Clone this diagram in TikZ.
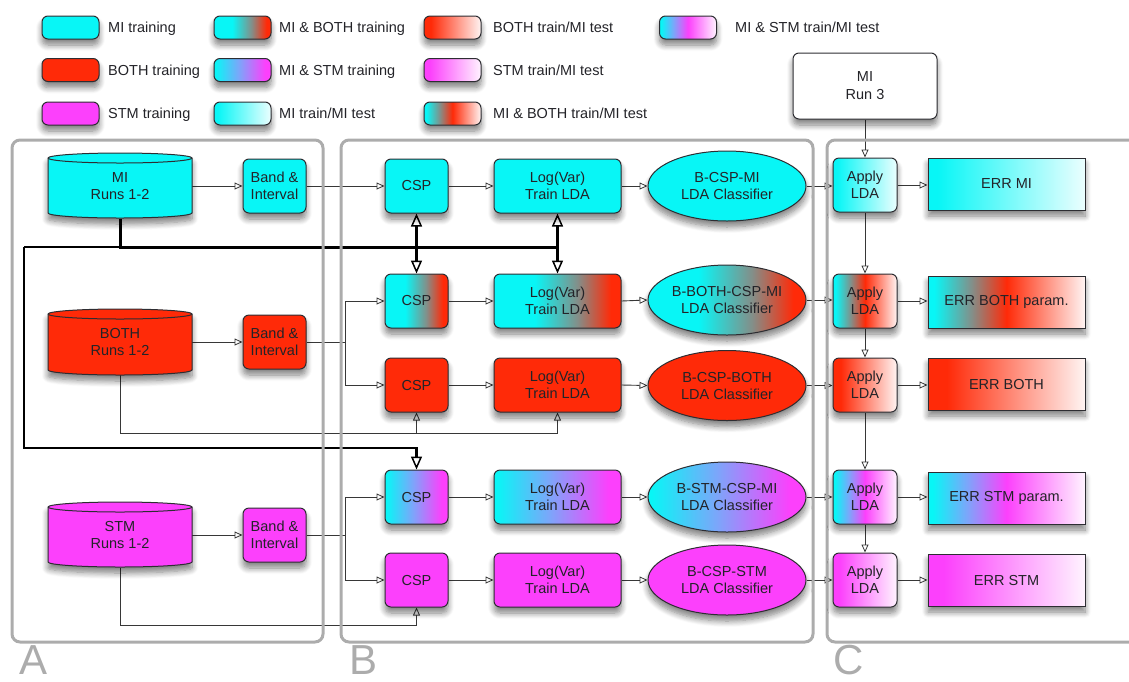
\documentclass[tikz,border=0pt]{standalone}
\usepackage{fontspec}
\setmainfont{Liberation Sans}
\usetikzlibrary{arrows.meta,shapes.geometric,shadows.blur}
\definecolor{cMI}{RGB}{8,246,246}
\definecolor{cB}{RGB}{255,42,8}
\definecolor{cS}{RGB}{252,64,252}
\definecolor{cG}{RGB}{132,142,136}
\definecolor{cBl}{RGB}{125,165,250}
\definecolor{txt}{RGB}{35,35,40}
\definecolor{edge}{RGB}{45,45,50}
\definecolor{pan}{RGB}{172,172,172}
\definecolor{lin}{RGB}{55,55,55}
\colorlet{wMI}{cMI!8!white}
\colorlet{wB}{cB!5!white}
\colorlet{wS}{cS!6!white}
\pgfdeclarehorizontalshading{mib}{100bp}{color(0bp)=(cMI); color(25bp)=(cMI); color(41bp)=(cMI); color(58bp)=(cG); color(71bp)=(cB); color(100bp)=(cB)}
\pgfdeclarehorizontalshading{mis}{100bp}{color(0bp)=(cMI); color(26bp)=(cMI); color(47bp)=(cBl); color(70bp)=(cS); color(100bp)=(cS)}
\pgfdeclarehorizontalshading{mit}{100bp}{color(0bp)=(cMI); color(28bp)=(cMI); color(75bp)=(wMI); color(100bp)=(wMI)}
\pgfdeclarehorizontalshading{bt}{100bp}{color(0bp)=(cB); color(31bp)=(cB); color(75bp)=(wB); color(100bp)=(wB)}
\pgfdeclarehorizontalshading{st}{100bp}{color(0bp)=(cS); color(30bp)=(cS); color(75bp)=(wS); color(100bp)=(wS)}
\pgfdeclarehorizontalshading{mibt}{100bp}{color(0bp)=(cMI); color(27bp)=(cMI); color(39bp)=(cG); color(50bp)=(cB); color(75bp)=(wB); color(100bp)=(wB)}
\pgfdeclarehorizontalshading{mist}{100bp}{color(0bp)=(cMI); color(26.5bp)=(cMI); color(37.5bp)=(cBl); color(50bp)=(cS); color(75bp)=(wS); color(100bp)=(wS)}
\pgfdeclarelayer{conn}
\pgfsetlayers{conn,main}
\newcommand\mycyl[4]{%
  \filldraw[fill=#4, draw=edge, line width=1pt, shdw]
    (#1-72,#2+5) -- (#1-72,#3-5) arc[start angle=180,end angle=360,x radius=72pt,y radius=5pt]
    -- (#1+72,#2+5) arc[start angle=0,end angle=180,x radius=72pt,y radius=5pt] -- cycle;
  \draw[draw=edge, line width=1pt] (#1-72,#2+5) arc[start angle=180,end angle=360,x radius=72pt,y radius=5pt];
}
\tikzset{
  shdw/.style={blur shadow={shadow xshift=0pt, shadow yshift=-6pt, shadow blur radius=6pt, shadow blur steps=8, shadow opacity=50}},
  nfont/.style={font=\fontsize{14.5}{17}\selectfont, text=txt},
  box/.style={nfont, draw=edge, line width=1pt, rounded corners=6pt, minimum width=63pt, minimum height=54pt, inner sep=1pt, align=center, shdw},
  wbox/.style={box, minimum width=127pt},
  errbox/.style={nfont, draw=edge, line width=1pt, minimum width=157pt, minimum height=52pt, inner sep=1pt, align=center, shdw},
  ell/.style={nfont, ellipse, draw=edge, line width=1pt, minimum width=158pt, minimum height=70pt, inner sep=0pt, align=center, shdw},
  cyltxt/.style={nfont, minimum width=144pt, minimum height=65pt, inner sep=0pt, align=center},
  lbox/.style={draw=edge, line width=1pt, rounded corners=6pt, minimum width=57pt, minimum height=23pt, inner sep=0pt, shdw},
  ltxt/.style={nfont, anchor=base west, inner sep=0pt},
  panelbox/.style={draw=pan, line width=3pt, rounded corners=8pt},
  lab/.style={font=\fontsize{42}{42}\selectfont, text=pan, anchor=base west, inner sep=0pt},
  line/.style={draw=lin, line width=0.9pt},
  conn/.style={line, -{Triangle[open, length=8pt, width=7pt, line width=0.8pt]}},
  thk/.style={draw=black, line width=3pt},
  thkarr/.style={draw=black, line width=2.6pt, -{Triangle[open, length=13pt, width=11pt, line width=1.5pt]}}
}
\begin{document}
\begin{tikzpicture}[x=1pt,y=-1pt]
\useasboundingbox (0,0) rectangle (1129,681);
% ---------- panels ----------
\draw[panelbox] (12,140) rectangle (323,642);
\draw[panelbox] (341,140) rectangle (813,642);
\draw[panelbox] (827,140) rectangle (1150,642);
\node[lab] (labA) at (19,674) {A};
\node[lab] (labB) at (349,674) {B};
\node[lab] (labC) at (833,674) {C};
% ---------- legend ----------
\node[lbox, fill=cMI] (lg1) at (70.5,27.5) {};
\node[ltxt] (lt1) at (108,32.7) {MI training};
\node[lbox, fill=cB] (lg2) at (70.5,70) {};
\node[ltxt] (lt2) at (108,75.2) {BOTH training};
\node[lbox, fill=cS] (lg3) at (70.5,113.5) {};
\node[ltxt] (lt3) at (108,118.7) {STM training};
\node[lbox, shading=mib] (lg4) at (242.5,27.5) {};
\node[ltxt] (lt4) at (279,32.7) {MI \& BOTH training};
\node[lbox, shading=mis] (lg5) at (242.5,70) {};
\node[ltxt] (lt5) at (279,75.2) {MI \& STM training};
\node[lbox, shading=mit] (lg6) at (242.5,113.5) {};
\node[ltxt] (lt6) at (279,118.7) {MI train/MI test};
\node[lbox, shading=bt] (lg7) at (452.5,27.5) {};
\node[ltxt] (lt7) at (493,32.7) {BOTH train/MI test};
\node[lbox, shading=st] (lg8) at (452.5,70) {};
\node[ltxt] (lt8) at (493,75.2) {STM train/MI test};
\node[lbox, shading=mibt] (lg9) at (452.5,113.5) {};
\node[ltxt] (lt9) at (493,118.7) {MI \& BOTH train/MI test};
\node[lbox, shading=mist] (lg10) at (688,27.5) {};
\node[ltxt] (lt10) at (735,32.7) {MI \& STM train/MI test};
% ---------- MI Run 3 ----------
\node[box, fill=white, minimum width=144pt, minimum height=66pt] (run3) at (865,86) {MI\\[1pt]Run 3};
% ---------- panel A ----------
\mycyl{120}{153}{218}{cMI}
\node[cyltxt] (cylMI) at (120,186) {MI\\Runs 1-2};
\mycyl{120}{309}{375}{cB}
\node[cyltxt] (cylB) at (120,342) {BOTH\\Runs 1-2};
\mycyl{120}{502}{567}{cS}
\node[cyltxt] (cylS) at (120,535) {STM\\Runs 1-2};
\node[box, fill=cMI] (bandMI) at (274.5,186) {Band \&\\Interval};
\node[box, fill=cB] (bandB) at (274.5,342) {Band \&\\Interval};
\node[box, fill=cS] (bandS) at (274.5,535) {Band \&\\Interval};
% ---------- panel B ----------
\node[box, fill=cMI] (csp1) at (416.5,186) {CSP};
\node[box, shading=mib] (csp2) at (416.5,301) {CSP};
\node[box, fill=cB] (csp3) at (416.5,385) {CSP};
\node[box, shading=mis] (csp4) at (416.5,497) {CSP};
\node[box, fill=cS] (csp5) at (416.5,580) {CSP};
\node[wbox, fill=cMI] (lv1) at (557.5,186) {Log(Var)\\Train LDA};
\node[wbox, shading=mib] (lv2) at (557.5,301) {Log(Var)\\Train LDA};
\node[wbox, fill=cB] (lv3) at (557.5,385) {Log(Var)\\Train LDA};
\node[wbox, shading=mis] (lv4) at (557.5,497) {Log(Var)\\Train LDA};
\node[wbox, fill=cS] (lv5) at (557.5,580) {Log(Var)\\Train LDA};
\node[ell, fill=cMI] (el1) at (727,186) {B-CSP-MI\\LDA Classifier};
\node[ell, shading=mib] (el2) at (727,300) {B-BOTH-CSP-MI\\LDA Classifier};
\node[ell, fill=cB] (el3) at (727,385.5) {B-CSP-BOTH\\LDA Classifier};
\node[ell, shading=mis] (el4) at (727,497) {B-STM-CSP-MI\\LDA Classifier};
\node[ell, fill=cS] (el5) at (727,580) {B-CSP-STM\\LDA Classifier};
% ---------- panel C ----------
\node[box, minimum width=64pt, shading=mit] (ap1) at (865,185) {Apply\\LDA};
\node[box, minimum width=64pt, shading=mibt] (ap2) at (865,301) {Apply\\LDA};
\node[box, minimum width=64pt, shading=bt] (ap3) at (865,385) {Apply\\LDA};
\node[box, minimum width=64pt, shading=mist] (ap4) at (865,497) {Apply\\LDA};
\node[box, minimum width=64pt, shading=st] (ap5) at (865,580) {Apply\\LDA};
\node[errbox, shading=mit] (er1) at (1006.5,184) {ERR MI};
\node[errbox, shading=mibt] (er2) at (1006.5,302) {ERR BOTH param.};
\node[errbox, shading=bt] (er3) at (1006.5,384) {ERR BOTH};
\node[errbox, shading=mist] (er4) at (1006.5,498) {ERR STM param.};
\node[errbox, shading=st] (er5) at (1006.5,580) {ERR STM};
% ---------- connectors ----------
\begin{pgfonlayer}{conn}
\draw[conn] (cylMI.east) -- (bandMI.west);
\draw[conn] (cylB.east) -- (bandB.west);
\draw[conn] (cylS.east) -- (bandS.west);
\draw[conn] (bandMI.east) -- (csp1.west);
\coordinate (spB) at (345,342);
\coordinate (spS) at (345,535);
\draw[line] (bandB.east) -- (spB);
\draw[conn] (spB) |- (csp2.west);
\draw[conn] (spB) |- (csp3.west);
\draw[line] (bandS.east) -- (spS);
\draw[conn] (spS) |- (csp4.west);
\draw[conn] (spS) |- (csp5.west);
% BOTH feed
\coordinate (fB) at (120,433);
\draw[line] (cylB.south) -- (fB) -- (lv3.south |- fB);
\draw[conn] (csp3.south |- fB) -- (csp3.south);
\draw[conn] (lv3.south |- fB) -- (lv3.south);
% STM feed
\coordinate (fS) at (120,625);
\draw[conn] (cylS.south) -- (fS) -| (csp5.south);
% thick MI feed
\coordinate (tj) at (120,247);
\coordinate (tl) at (24,247);
\coordinate (tb) at (24,448);
\draw[thk] (cylMI.south) -- (tj) -- (lv1.south |- tj);
\draw[draw=black, line width=2.4pt] (tj) -- (tl);
\draw[thkarr] (tl) -- (tb) -| (csp4.north);
\draw[thkarr] (csp1.south |- tj) -- (csp1.south);
\draw[thkarr] (csp1.south |- tj) -- (csp2.north);
\draw[thkarr] (lv1.south |- tj) -- (lv1.south);
\draw[thkarr] (lv1.south |- tj) -- (lv2.north);
% rows
\foreach \i in {1,...,5}{
  \draw[conn] (csp\i.east) -- (lv\i.west);
  \draw[conn] (lv\i.east) -- (el\i.west);
  \draw[conn] (el\i.east) -- (ap\i.west |- el\i.east);
  \draw[conn] (ap\i.east) -- (er\i.west |- ap\i.east);
}
\draw[conn] (run3.south) -- (ap1.north);
\draw[conn] (ap1.south) -- (ap2.north);
\draw[conn] (ap2.south) -- (ap3.north);
\draw[conn] (ap3.south) -- (ap4.north);
\draw[conn] (ap4.south) -- (ap5.north);
\end{pgfonlayer}
\end{tikzpicture}
\end{document}
